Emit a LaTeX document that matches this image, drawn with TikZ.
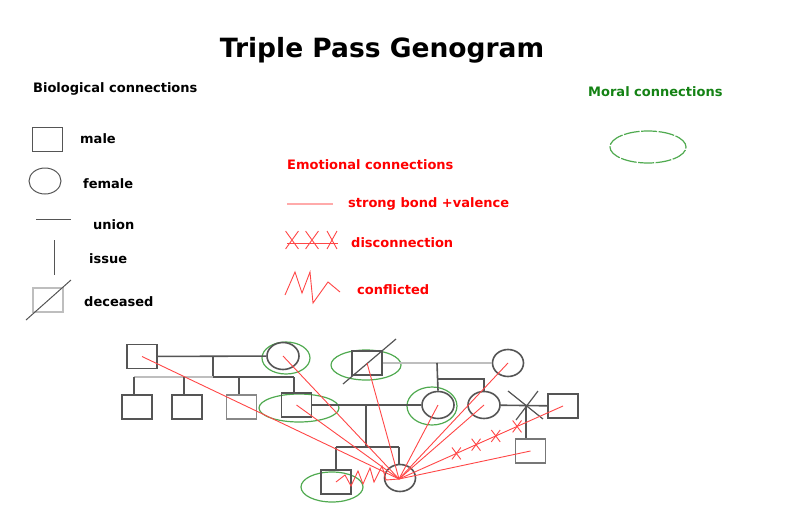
\documentclass[tikz,border=0pt]{standalone}
\usepackage{fontspec}
\setmainfont{DejaVu Sans}
\usetikzlibrary{shapes.geometric,shapes.misc}
\definecolor{gline}{RGB}{85,85,85}
\definecolor{glight}{RGB}{190,190,190}
\definecolor{emored}{RGB}{255,70,70}
\definecolor{emopink}{RGB}{255,170,170}
\definecolor{moralg}{RGB}{80,170,80}
\definecolor{textgreen}{RGB}{20,130,20}
\begin{document}
\begin{tikzpicture}[x=1pt,y=-1pt,
  male/.style={draw=gline,rectangle,minimum width=30pt,minimum height=24pt,inner sep=0pt,line width=1.6pt},
  female/.style={draw=gline,ellipse,minimum width=32pt,minimum height=27pt,inner sep=0pt,line width=1.6pt},
  gl/.style={draw=gline,line width=1.6pt},
  gll/.style={draw=glight,line width=1.6pt},
  legline/.style={draw=gline,line width=1pt},
  moral/.style={draw=moralg,ellipse,inner sep=0pt,line width=1.2pt},
  emo/.style={draw=emored,line width=0.9pt},
  lbl/.style={anchor=west,inner sep=0pt,font=\bfseries\fontsize{13}{15}\selectfont},
  xmark/.style={draw=emored,cross out,line width=0.9pt,minimum width=8pt,minimum height=11pt,inner sep=0pt}]
\useasboundingbox (0,0) rectangle (787,525);

% ---------- title ----------
\node[font=\bfseries\fontsize{26.5}{30}\selectfont] (title) at (382,50) {Triple Pass Genogram};

% ---------- biological legend ----------
\node[lbl] (tbio) at (33,89) {Biological connections};
\node[male,line width=1pt,minimum width=30pt,minimum height=24pt] (Lmale) at (47,139) {};
\node[lbl] (tmale) at (80,139) {male};
\node[female,line width=1pt,minimum width=32pt,minimum height=26pt] (Lfem) at (45,181) {};
\node[lbl] (tfem) at (83,184) {female};
\coordinate (Lu1) at (36,219); \coordinate (Lu2) at (71,219);
\draw[legline] (Lu1) -- (Lu2);
\node[lbl] (tunion) at (93,225) {union};
\coordinate (Li1) at (54,240); \coordinate (Li2) at (54,275);
\draw[legline] (Li1) -- (Li2);
\node[lbl] (tissue) at (89,259) {issue};
\node[male,draw=glight,line width=1.2pt] (Ldec) at (48,300) {};
\coordinate (Ld1) at (26,320); \coordinate (Ld2) at (71,280);
\draw[legline] (Ld1) -- (Ld2);
\node[lbl] (tdec) at (84,302) {deceased};

% ---------- emotional legend ----------
\node[lbl,text=red] (temo) at (287,165) {Emotional connections};
\coordinate (Ls1) at (287,204); \coordinate (Ls2) at (333,204);
\draw[draw=emopink,line width=1.2pt] (Ls1) -- (Ls2);
\node[lbl,text=red] (tstrong) at (348,204) {strong bond +valence};
\coordinate (Lx1) at (287,243); \coordinate (Lx2) at (338,243);
\draw[emo] (Lx1) -- (Lx2);
\node[xmark,minimum width=12pt,minimum height=17pt] (Lxa) at (292,240) {};
\node[xmark,minimum width=12pt,minimum height=17pt] (Lxb) at (312,240) {};
\node[xmark,minimum width=9pt,minimum height=17pt] (Lxc) at (332,240) {};
\node[lbl,text=red] (tdis) at (351,243) {disconnection};
\draw[emo] (285,295) -- (295,272) -- (302,293) -- (310,272) -- (313,303) -- (328,282) -- (340,292);
\node[lbl,text=red] (tconf) at (357,290) {conflicted};

% ---------- moral legend ----------
\node[lbl,text=textgreen] (tmoral) at (588,92) {Moral connections};
\node[moral,minimum width=76pt,minimum height=32pt,dash pattern=on 16pt off 1.5pt] (Lmoral) at (648,147) {};

% ---------- moral ellipses in genogram ----------
\node[moral,minimum width=48pt,minimum height=32pt] (mC) at (286,358) {};
\node[moral,minimum width=80pt,minimum height=28pt] (mB) at (299,408) {};
\node[moral,minimum width=70pt,minimum height=30pt] (mD) at (366,365) {};
\node[moral,minimum width=50pt,minimum height=38pt] (mG) at (432,406) {};
\node[moral,minimum width=62pt,minimum height=30pt] (mJ) at (332,487) {};

% ---------- genogram: left family ----------
\node[male] (A) at (142,356.5) {};
\node[female] (C) at (283,356) {};
\draw[gl] (A) -- (C);
\coordinate (u1) at (213,356.5);
\coordinate (s1) at (213,377);
\coordinate (sL) at (134,377);
\coordinate (sR) at (294,377);
\draw[gl] (u1) -- (s1);
\draw[gll] (sL) -- (s1);
\draw[gl] (s1) -- (sR);
\node[male] (c1) at (137,407) {};
\node[male] (c2) at (187,407) {};
\node[male,draw=gline!70] (c3) at (241.5,407) {};
\node[male] (B) at (296.5,405) {};
\coordinate (d1) at (134,377); \coordinate (d2) at (184,377); \coordinate (d3) at (239,377);
\draw[gl] (d1) -- (d1 |- c1.north);
\draw[gl] (d2) -- (d2 |- c2.north);
\draw[gl] (d3) -- (d3 |- c3.north);
\draw[gl] (sR) -- (sR |- B.north);

% ---------- genogram: right family ----------
\node[male] (D) at (367,363) {};
\coordinate (Dd1) at (343,384); \coordinate (Dd2) at (396,339);
\draw[gl,line width=1.2pt] (Dd1) -- (Dd2);
\node[female,minimum width=31pt] (E) at (508,363) {};
\draw[gll] (D) -- (E);
\node[female] (G) at (438,405) {};
\node[female] (F) at (484,405) {};
\coordinate (u2) at (437,363);
\coordinate (u2b) at (437,379);
\coordinate (u2c) at (484,379);
\draw[gl] (u2) -- (G.north);
\draw[gl] (u2b) -- (u2c) -- (F.north);

% unions of the middle generation
\draw[gl] (B) -- (G);
\node[male] (H) at (563,406) {};
\draw[gl] (F) -- (H);
\coordinate (X1) at (508,391); \coordinate (X2) at (543,419);
\coordinate (X3) at (538,391); \coordinate (X4) at (516,420);
\draw[gl,line width=1.2pt] (X1) -- (X2);
\draw[gl,line width=1.2pt] (X3) -- (X4);
\node[male,draw=gline!80] (I) at (530.5,451) {};
\coordinate (xc) at (526,405);
\draw[gl] (xc) -- (xc |- I.north);

% children of B and G
\coordinate (u3) at (366,405);
\coordinate (u3b) at (366,447);
\coordinate (kL) at (336,447);
\coordinate (kR) at (399,447);
\node[male] (J) at (336,482) {};
\node[female,minimum width=31pt] (K) at (400,478) {};
\draw[gl] (u3) -- (u3b);
\draw[gl] (kL) -- (kR);
\draw[gl] (kL) -- (J.north);
\draw[gl] (kR) -- (kR |- K.north);

% ---------- emotional connections ----------
\coordinate (hub) at (399,479);
\draw[emo] (A.center) -- (hub);
\draw[emo] (C.center) -- (hub);
\draw[emo] (B.center) -- (hub);
\draw[emo] (D.center) -- (hub);
\draw[emo] (G.center) -- (hub);
\draw[emo] (E.center) -- (hub);
\draw[emo] (F.center) -- (hub);
\draw[emo] (I.center) -- (hub);
\draw[emo] (H.center) -- (hub)
  node[xmark,pos=0.28] (hx1) {}
  node[xmark,pos=0.41] (hx2) {}
  node[xmark,pos=0.53] (hx3) {}
  node[xmark,pos=0.65] (hx4) {};
\draw[emo] (J.center) -- (345,475) -- (351,486) -- (358,471) -- (363,484) -- (370,468) -- (374,482) -- (382,466) -- (386,480) -- (hub);
\end{tikzpicture}
\end{document}
